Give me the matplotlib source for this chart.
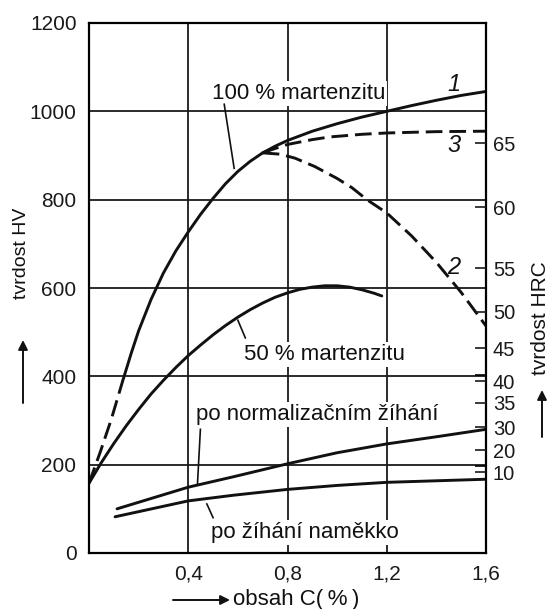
import matplotlib
matplotlib.use("Agg")
import matplotlib.pyplot as plt

plt.rcParams['font.family'] = ['Liberation Sans', 'DejaVu Sans']
plt.rcParams['lines.scale_dashes'] = False

# ---- data (carbon content %, hardness HV) ----
m100_dash_x = [0.0, 0.045, 0.09, 0.136]
m100_dash_y = [158, 228, 303, 390]

m100_x = [0.136, 0.17, 0.20, 0.25, 0.30, 0.35, 0.40, 0.45, 0.50, 0.55, 0.60, 0.65, 0.70]
m100_y = [390, 452, 503, 574, 634, 684, 727, 767, 803, 836, 864, 887, 906]

c1_x = [0.70, 0.75, 0.80, 0.90, 1.00, 1.10, 1.20, 1.30, 1.40, 1.50, 1.60]
c1_y = [906, 921, 934, 955, 972, 987, 1000, 1013, 1025, 1036, 1045]

c3_x = [0.70, 0.735, 0.80, 0.90, 0.97, 1.10, 1.20, 1.40, 1.60]
c3_y = [906, 913, 925, 936, 942, 948, 951, 954, 955]

c2_x = [0.70, 0.77, 0.83, 0.91, 1.00, 1.06, 1.12, 1.20, 1.30, 1.40, 1.50, 1.60]
c2_y = [906, 903, 894, 875, 848, 827, 800, 770, 718, 658, 590, 514]

m50_x = [0.0, 0.05, 0.10, 0.15, 0.20, 0.25, 0.30, 0.35, 0.40, 0.45, 0.50, 0.55, 0.60,
         0.65, 0.70, 0.75, 0.80, 0.85, 0.90, 0.95, 1.00, 1.05, 1.10, 1.15, 1.18]
m50_y = [158, 205, 248, 288, 325, 360, 391, 420, 447, 471, 494, 515, 534,
         551, 566, 579, 589, 597, 602, 605, 605, 602, 596, 588, 582]

norm_x = [0.113, 0.40, 0.585, 0.80, 1.00, 1.20, 1.41, 1.60]
norm_y = [100, 149, 173, 202, 227, 247, 264, 280]

soft_x = [0.105, 0.40, 0.585, 0.80, 1.00, 1.20, 1.60]
soft_y = [82, 118, 131, 144, 153, 160, 167]

x_ticks = [0.4, 0.8, 1.2, 1.6]
x_labels = ['0,4', '0,8', '1,2', '1,6']
y_ticks = [0, 200, 400, 600, 800, 1000, 1200]

hrc_pos = [928, 783, 645, 546, 464, 389, 340, 285, 233, 183]
hrc_labels = ['65', '60', '55', '50', '45', '40', '35', '30', '20', '10']
hrc_minor = [403, 196]

# ---- figure ----
fig = plt.figure(figsize=(5.52, 6.09), dpi=100)
ax = fig.add_axes([89/552, 56/609, 397/552, 530/609])
ax.set_xlim(0, 1.6)
ax.set_ylim(0, 1200)

for s in ax.spines.values():
    s.set_linewidth(1.6)
    s.set_zorder(6)

ax.set_xticks(x_ticks)
ax.set_xticklabels(x_labels)
ax.set_yticks(y_ticks)
ax.tick_params(axis='both', length=0, labelsize=15, colors='#1a1a1a')
ax.tick_params(axis='y', pad=9)
ax.tick_params(axis='x', pad=8)
ax.grid(True, color='#1a1a1a', linewidth=1.3, zorder=1)
ax.set_axisbelow(True)

LW = 2.1
DASH = (0, (12, 5))
kw = dict(color='#111111', lw=LW, zorder=4, solid_capstyle='round', solid_joinstyle='round')
ax.plot(m100_dash_x, m100_dash_y, linestyle=DASH, **kw)
ax.plot(m100_x, m100_y, **kw)
ax.plot(c1_x, c1_y, **kw)
ax.plot(c3_x, c3_y, linestyle=DASH, **kw)
ax.plot(c2_x, c2_y, linestyle=DASH, **kw)
ax.plot(m50_x, m50_y, **kw)
ax.plot(norm_x, norm_y, **kw)
ax.plot(soft_x, soft_y, **kw)

box = dict(facecolor='white', edgecolor='none', pad=1.5)
tkw = dict(fontsize=16, color='#111111', ha='center', va='center', zorder=3, bbox=box)
ax.text(0.845, 1041, '100 % martenzitu', **tkw)
ax.text(0.95, 450, '50 % martenzitu', **tkw)
ax.text(0.918, 313, 'po normalizačním žíhání', **tkw)
ax.text(0.87, 47, 'po žíhání naměkko', **tkw)

nkw = dict(fontsize=17, color='#111111', ha='center', va='center', style='italic', zorder=5)
ax.text(1.47, 1061, '1', **nkw)
ax.text(1.47, 923, '3', **nkw)
ax.text(1.47, 647, '2', **nkw)

lkw = dict(color='#111111', lw=1.2, zorder=5)
ax.plot([0.545, 0.585], [1016, 871], **lkw)
ax.plot([0.60, 0.63], [527, 487], **lkw)
ax.plot([0.449, 0.437], [280, 155], **lkw)
ax.plot([0.475, 0.50], [111, 80], **lkw)

# right HRC scale
ax2 = ax.twinx()
ax2.set_ylim(0, 1200)
ax2.set_yticks(hrc_pos)
ax2.set_yticklabels(hrc_labels)
ax2.set_yticks(hrc_minor, minor=True)
ax2.tick_params(axis='y', which='major', direction='in', length=8, width=1.2,
                labelsize=14.5, pad=5, colors='#1a1a1a')
ax2.tick_params(axis='y', which='minor', direction='in', length=8, width=1.2)
for s in ax2.spines.values():
    s.set_visible(False)

# axis labels with arrows
fig.text(22/552, 1 - 253/609, 'tvrdost HV', rotation=90, fontsize=14,
         ha='center', va='center', color='#111111')
fig.text(541/552, 1 - 318/609, 'tvrdost HRC', rotation=90, fontsize=15,
         ha='center', va='center', color='#111111')
fig.text(233/552, 1 - 600/609, 'obsah C(\u2009%\u2009)', fontsize=16,
         ha='left', va='center', color='#111111')

akw = dict(arrowstyle='-|>', lw=1.4, color='#111111', mutation_scale=14,
           shrinkA=0, shrinkB=0)
fig.add_artist(matplotlib.patches.FancyArrowPatch(
    (23/552, 1 - 403/609), (23/552, 1 - 340/609), transform=fig.transFigure, **akw))
fig.add_artist(matplotlib.patches.FancyArrowPatch(
    (542/552, 1 - 437/609), (542/552, 1 - 390/609), transform=fig.transFigure, **akw))
fig.add_artist(matplotlib.patches.FancyArrowPatch(
    (173/552, 1 - 600/609), (230/552, 1 - 600/609), transform=fig.transFigure, **akw))

fig.savefig('out.png', dpi=100, facecolor='white')
